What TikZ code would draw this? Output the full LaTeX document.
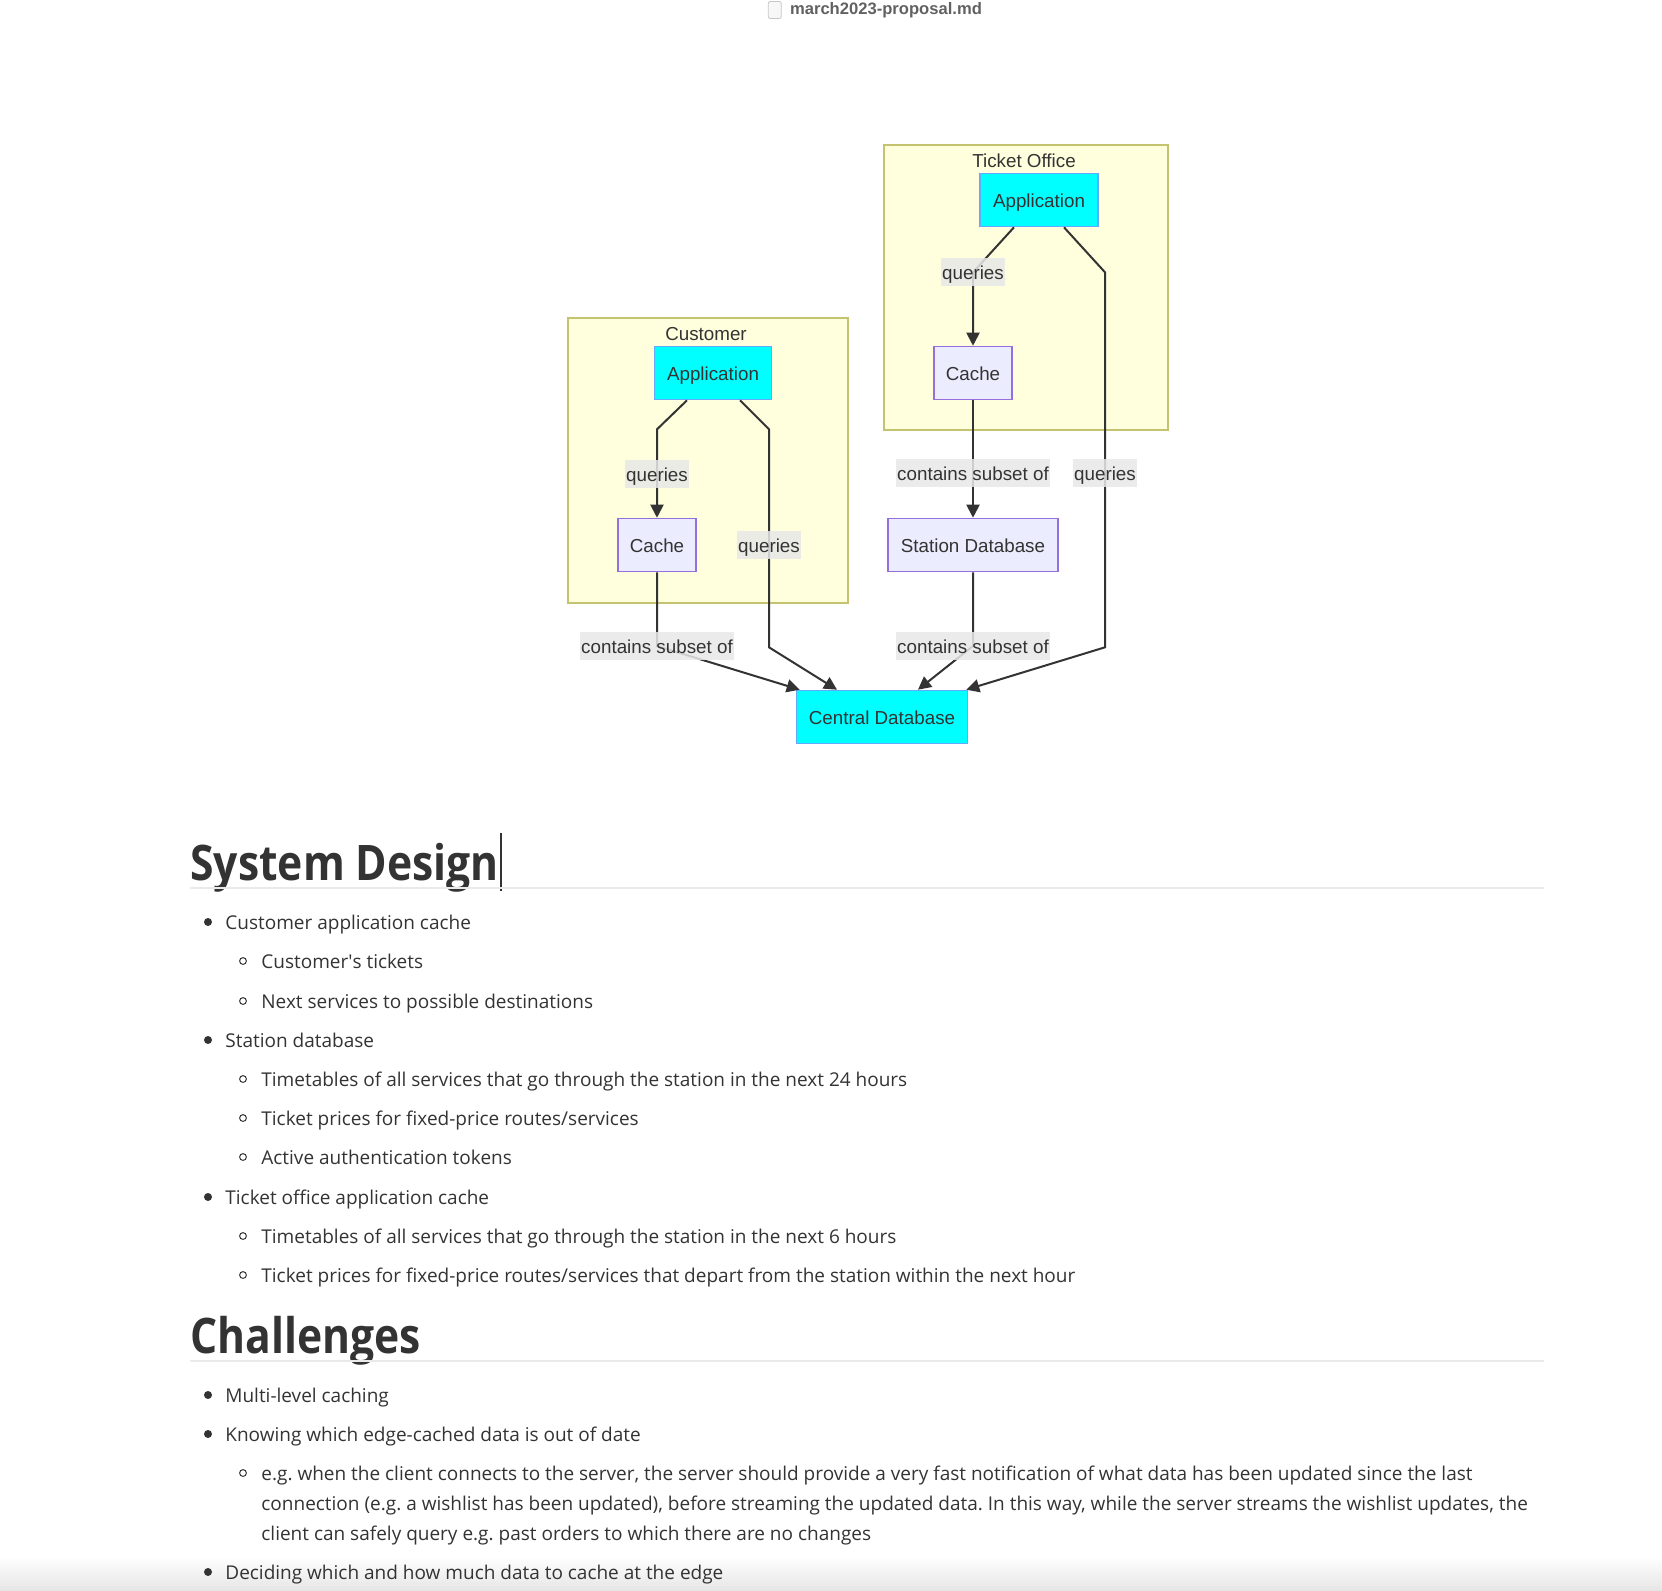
\documentclass[tikz,border=0pt]{standalone}
\usepackage{fontspec}
\usepackage{graphicx}
\setmainfont{Open Sans}
\newfontfamily\diagfont{Liberation Sans}
\usetikzlibrary{arrows.meta, positioning}
\definecolor{txt}{HTML}{333333}
\definecolor{groupfill}{HTML}{FFFFDE}
\definecolor{groupline}{HTML}{C4C470}
\definecolor{appfill}{HTML}{00FFFF}
\definecolor{appline}{HTML}{66A8FF}
\definecolor{nodefill}{HTML}{ECECFF}
\definecolor{nodeline}{HTML}{9370DB}
\definecolor{labelfill}{HTML}{E8E8E8}
\definecolor{rulegray}{HTML}{EAEAEA}
\newcommand{\headtext}[1]{\scalebox{0.87}[1]{#1}}
\frenchspacing

\begin{document}
\begin{tikzpicture}[x=0.5pt, y=-0.5pt,
        dfont/.style={font=\diagfont\fontsize{9.4pt}{11pt}\selectfont, text=txt,
                      text height=0.8em, text depth=0.05em},
        group/.style={rectangle, draw=groupline, fill=groupfill, line width=1pt,
                      anchor=north west, inner sep=0pt},
        grouptitle/.style={dfont, inner sep=0pt},
        box/.style={rectangle, draw=nodeline, fill=nodefill, line width=0.8pt,
                    minimum height=26.5pt, inner xsep=6pt, dfont},
        appbox/.style={box, draw=appline, fill=appfill},
        lbl/.style={fill=labelfill, fill opacity=0.85, text opacity=1, dfont,
                    inner xsep=0.5pt, inner ysep=0pt, minimum height=14pt},
        flow/.style={-{Triangle[length=6.5pt, width=6.5pt]}, line width=1pt, draw=txt},
        h1/.style={anchor=base west, inner sep=0pt, text=txt,
                   font=\bfseries\fontsize{24.5pt}{28pt}\selectfont},
        para/.style={anchor=west, inner sep=0pt, text=txt, text height=0.75em, text depth=0.2em,
                     yshift=-1pt, font=\fontsize{9.5pt}{12pt}\selectfont},
        dot/.style={circle, fill=txt, inner sep=0pt, minimum size=4pt},
        ring/.style={circle, draw=txt, line width=0.5pt, inner sep=0pt, minimum size=3.4pt},
    ]
    \useasboundingbox (0,0) rectangle (1662,1591);
    \shade[top color=white, bottom color=black!10] (0,1556) rectangle (1662,1591);

    % file name bar
    \node[font=\diagfont\bfseries\fontsize{8.3pt}{9pt}\selectfont, text=black!62, inner sep=0pt] (fname) at (886,10) {march2023-proposal.md};
    \node[draw=black!22, fill=black!3, rounded corners=1pt, minimum width=6.5pt, minimum height=8.5pt,
          inner sep=0pt, left=4pt of fname] (ficon) {};

    % subgraphs
    \node[group, minimum width=142pt, minimum height=142.5pt] (office) at (883,144) {};
    \node[group, minimum width=140pt, minimum height=142.5pt] (customer) at (567,317) {};
    \node[grouptitle] (officetitle) at (1024,160) {Ticket Office};
    \node[grouptitle] (customertitle) at (706,333) {Customer};

    % nodes
    \node[appbox, minimum width=59pt] (tapp) at (1039,200) {Application};
    \node[box, minimum width=39pt] (tcache) at (973,373) {Cache};
    \node[appbox, minimum width=58.5pt] (capp) at (713,373) {Application};
    \node[box, minimum width=39pt] (ccache) at (657,545) {Cache};
    \node[box, minimum width=85pt] (sdb) at (973,545) {Station Database};
    \node[appbox, minimum width=85.5pt] (central) at (882,717) {Central Database};

    % edges
    \draw[flow] ([xshift=-13pt]capp.south) -- ++(-30,29) -- node[lbl, pos=0.5]{queries} (ccache);
    \draw[flow] ([xshift=13.5pt]capp.south) -- ++(29,29) -- node[lbl, pos=0.53]{queries} ++(0,218)
        -- ([xshift=-22.5pt]central.north);
    \draw[flow] (ccache) -- ++(0,101) node[lbl]{contains subset of} -- ([xshift=2pt]central.north west);
    \draw[flow] ([xshift=-12.5pt]tapp.south) -- ++(-41,45) node[lbl]{queries} -- (tcache);
    \draw[flow] ([xshift=12.5pt]tapp.south) -- ++(41,45) -- node[lbl, pos=0.536]{queries} ++(0,375)
        -- ([xshift=-1pt]central.north east);
    \draw[flow] (tcache) -- node[lbl, pos=0.62]{contains subset of} (sdb);
    \draw[flow] (sdb) -- ++(0,101) node[lbl]{contains subset of} -- ([xshift=18pt]central.north);

    % document text
    \node[h1] (design) at (190,880) {\headtext{System Design}};
    \draw[txt, line width=0.6pt] (501,833) -- (501,891);
    \draw[rulegray, line width=0.6pt] (190,888) -- (1544,888);
    \node[h1] (challenges) at (190,1353) {\headtext{Challenges}};
    \draw[rulegray, line width=0.6pt] (190,1361) -- (1544,1361);

    \foreach \y/\t in {922/{Customer application cache}, 1040/{Station database},
                       1197/{Ticket office application cache}, 1395/{Multi-level caching},
                       1434/{Knowing which edge-cached data is out of date},
                       1572/{Deciding which and how much data to cache at the edge}} {
        \node[dot] (bullet\y) at (208,\y) {};
        \node[para] (item\y) at (225,\y) {\t};
    }
    \foreach \y/\t in {961/{Customer\textquotesingle s tickets}, 1001/{Next services to possible destinations},
                       1079/{Timetables of all services that go through the station in the next 24 hours},
                       1118/{Ticket prices for fixed-price routes/services},
                       1157/{Active authentication tokens},
                       1236/{Timetables of all services that go through the station in the next 6 hours},
                       1275/{Ticket prices for fixed-price routes/services that depart from the station within the next hour},
                       1473/{e.g. when the client connects to the server, the server should provide a very fast notification of what data has been updated since the last}} {
        \node[ring] (circle\y) at (243,\y) {};
        \node[para] (sub\y) at (261,\y) {\t};
    }
    \node[para] (eg2) at (261,1503) {connection (e.g. a wishlist has been updated), before streaming the updated data. In this way, while the server streams the wishlist updates, the};
    \node[para] (eg3) at (261,1533) {client can safely query e.g. past orders to which there are no changes};
\end{tikzpicture}
\end{document}
